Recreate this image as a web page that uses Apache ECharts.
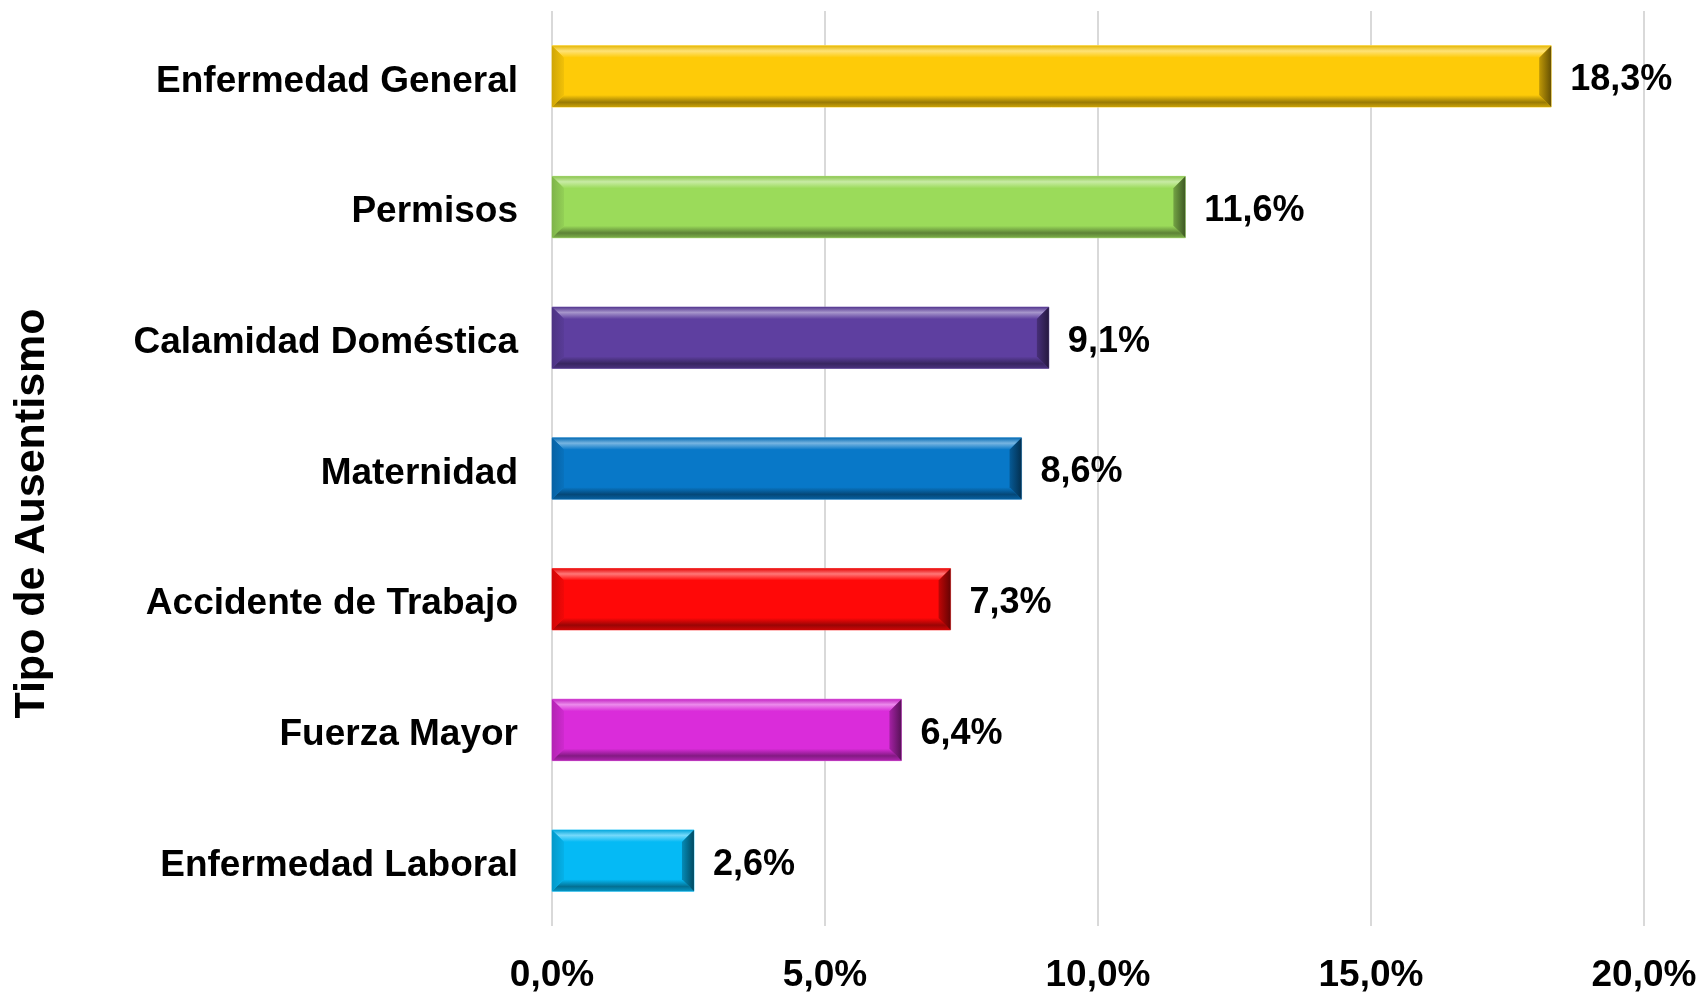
<!DOCTYPE html>
<html>
<head>
<meta charset="utf-8">
<title>Tipo de Ausentismo</title>
<script src="https://cdn.jsdelivr.net/npm/echarts@6/dist/echarts.min.js"></script>
<style>
  html, body { margin: 0; padding: 0; background: #fff; }
  #chart { width: 1700px; height: 994px; }
</style>
</head>
<body>
<div id="chart"></div>
<script>
// datos del gráfico
var categorias = ['Enfermedad General', 'Permisos', 'Calamidad Doméstica', 'Maternidad',
  'Accidente de Trabajo', 'Fuerza Mayor', 'Enfermedad Laboral'];
var valores = [18.3, 11.6, 9.1, 8.6, 7.3, 6.4, 2.6];
var ticksX = [0, 5, 10, 15, 20];

var colores = ['#FECB08', '#9BDB5A', '#5E3FA0', '#0878C8', '#FF0808', '#DA2CDA', '#05BAF5'];
var fuente = '"Liberation Sans", Arial, sans-serif';

function pct(v) {
  return v.toFixed(1).replace('.', ',') + '%';
}

// mezcla un color con blanco (t>0) o negro (t<0)
function tono(hex, t) {
  var n = parseInt(hex.slice(1), 16);
  var c = [(n >> 16) & 255, (n >> 8) & 255, n & 255];
  var o = c.map(function (x) {
    return Math.round(t > 0 ? x + (255 - x) * t : x * (1 + t));
  });
  return 'rgb(' + o.join(',') + ')';
}

function grad(x2, y2, stops) {
  return new echarts.graphic.LinearGradient(0, 0, x2, y2, stops.map(function (s) {
    return { offset: s[0], color: s[1] };
  }));
}

// barra con bisel, dibujada desde las escalas del eje
function barraBisel(params, api) {
  var i = api.value(0);
  var v = api.value(1);
  var c = colores[i];
  var ini = api.coord([0, i]);
  var fin = api.coord([v, i]);
  var alto = api.size([0, 1])[1] * 0.47;
  var x0 = ini[0], x1 = fin[0];
  var y0 = ini[1] - alto / 2, y1 = ini[1] + alto / 2;
  var b = Math.min(12, (x1 - x0) / 2);
  return {
    type: 'group',
    children: [
      { type: 'rect', shape: { x: x0, y: y0, width: x1 - x0, height: y1 - y0 },
        style: { fill: c, stroke: tono(c, 0.35), lineWidth: 1 } },
      { type: 'polygon', shape: { points: [[x0, y0], [x1, y0], [x1 - b, y0 + b], [x0 + b, y0 + b]] },
        style: { fill: grad(0, 1, [[0, tono(c, -0.1)], [0.45, tono(c, 0.45)], [1, c]]) } },
      { type: 'polygon', shape: { points: [[x0, y1], [x1, y1], [x1 - b, y1 - b], [x0 + b, y1 - b]] },
        style: { fill: grad(0, 1, [[0, c], [0.6, tono(c, -0.4)], [1, tono(c, -0.2)]]) } },
      { type: 'polygon', shape: { points: [[x0, y0], [x0 + b, y0 + b], [x0 + b, y1 - b], [x0, y1]] },
        style: { fill: grad(1, 0, [[0, tono(c, -0.18)], [1, tono(c, -0.05)]]) } },
      { type: 'polygon', shape: { points: [[x1, y0], [x1 - b, y0 + b], [x1 - b, y1 - b], [x1, y1]] },
        style: { fill: grad(1, 0, [[0, tono(c, -0.25)], [1, tono(c, -0.6)]]) } },
      { type: 'text', x: x1 + 19, y: ini[1] + 4,
        style: { text: pct(v), font: 'bold 36px ' + fuente, fill: '#000',
          verticalAlign: 'middle', align: 'left' } }
    ]
  };
}

var chart = echarts.init(document.getElementById('chart'));
var option = {
  backgroundColor: '#fff',
  animation: false,
  grid: { left: 552, right: 56, top: 11, bottom: 64 },
  xAxis: {
    type: 'value',
    min: ticksX[0],
    max: ticksX[ticksX.length - 1],
    interval: ticksX[1] - ticksX[0],
    axisLine: { show: false },
    axisTick: { show: false },
    splitLine: { lineStyle: { color: '#d9d9d9', width: 2 } },
    axisLabel: {
      margin: 31,
      color: '#000',
      fontFamily: fuente,
      fontWeight: 'bold',
      fontSize: 37,
      formatter: function (v) { return pct(v); }
    }
  },
  yAxis: {
    type: 'category',
    data: categorias,
    inverse: true,
    axisLine: { show: false },
    axisTick: { show: false },
    splitLine: { show: false },
    axisLabel: {
      margin: 34,
      color: '#000',
      fontFamily: fuente,
      fontWeight: 'bold',
      fontSize: 37,
      verticalAlign: 'top',
      lineHeight: 10
    },
    name: 'Tipo de Ausentismo',
    nameLocation: 'middle',
    nameRotate: 90,
    nameGap: 498,
    nameTextStyle: {
      color: '#000',
      fontFamily: fuente,
      fontWeight: 'bold',
      fontSize: 43,
      padding: [0, 90, 0, 0]
    }
  },
  series: [{
    type: 'custom',
    renderItem: barraBisel,
    encode: { x: 1, y: 0 },
    data: valores.map(function (v, i) { return [i, v]; })
  }]
};
chart.setOption(option);
</script>
</body>
</html>
